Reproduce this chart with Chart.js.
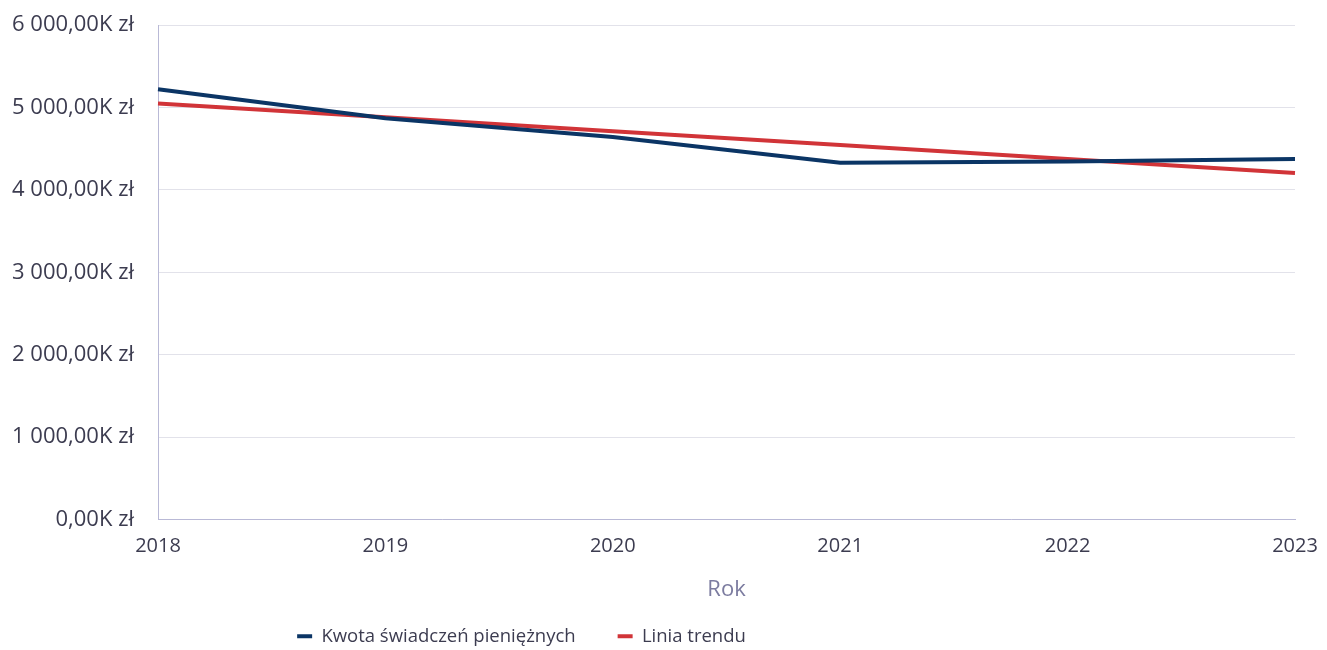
<!DOCTYPE html>
<html>
<head>
<meta charset="utf-8">
<script src="https://cdn.jsdelivr.net/npm/chart.js@4"></script>
<style>
html,body{margin:0;padding:0;background:#fff;}
#wrap{width:1327px;height:650px;}
</style>
</head>
<body>
<div id="wrap"><canvas id="c" width="1327" height="650"></canvas></div>
<script>
const years = ["2018","2019","2020","2021","2022","2023"];
const kwota = [5220, 4870, 4640, 4328, 4345, 4373];
const trend = [5048, 4880, 4712, 4544, 4375, 4206];
const yTicks = [0, 1000, 2000, 3000, 4000, 5000, 6000];

function fmt(v){
  const s = Math.round(v).toString().replace(/\B(?=(\d{3})+(?!\d))/g, " ");
  return s + ",00K zł";
}

const textColor = "#3c3c50";
Chart.defaults.font.family = "'Open Sans', sans-serif";
Chart.defaults.font.size = 18;
Chart.defaults.color = textColor;

const LEGEND_H = 47, LEGEND_DY = -18, LEGEND_DX = -126;
const legendFix = {
  id: "legendFix",
  beforeInit(chart) {
    const lg = chart.legend;
    if (!lg) return;
    const origFit = lg.fit.bind(lg);
    lg.fit = function(){ origFit(); this.height = LEGEND_H; };
    lg.draw = function(){
      if (!this.options.display) return;
      const ctx = this.ctx;
      ctx.save(); ctx.translate(LEGEND_DX, LEGEND_DY); this._draw(); ctx.restore();
    };
  }
};

new Chart(document.getElementById("c"), {
  type: "line",
  data: {
    labels: years,
    datasets: [
      {label: "Kwota świadczeń pieniężnych", data: kwota, borderColor: "#0b3565", backgroundColor: "#0b3565", borderWidth: 4, pointRadius: 0, tension: 0},
      {label: "Linia trendu", data: trend, borderColor: "#d13438", backgroundColor: "#d13438", borderWidth: 4, pointRadius: 0, tension: 0}
    ]
  },
  plugins: [legendFix],
  options: {
    responsive: false,
    animation: false,
    layout: {padding: {left: 0, right: 32, top: 25, bottom: 0}},
    plugins: {
      tooltip: {enabled: false},
      legend: {
        position: "bottom",
        labels: {
          boxWidth: 15, boxHeight: 4, padding: 42, color: textColor, font: {size: 18.5},
          generateLabels(chart) {
            const items = Chart.defaults.plugins.legend.labels.generateLabels(chart);
            items.forEach(i => { i.lineWidth = 0; });
            return items;
          }
        },
        onClick: null
      }
    },
    scales: {
      x: {
        offset: false,
        grid: {display: false},
        border: {display: true, color: "#b9b9d6", width: 1},
        ticks: {color: textColor, padding: 7, maxRotation: 0, font: {size: 20}},
        title: {display: true, text: "Rok", color: "#7c7ca0", font: {size: 22}, padding: {top: 11, bottom: 0}}
      },
      y: {
        min: 0, max: 6000,
        afterBuildTicks: (s) => { s.ticks = yTicks.map(v => ({value: v})); },
        afterFit: (s) => { s.width = 158; s.paddingTop = 0; s.paddingBottom = 0; },
        grid: {color: "#e2e2ea", drawTicks: false},
        border: {display: true, color: "#b9b9d6", width: 1},
        ticks: {color: textColor, padding: 24, font: {size: 22}, callback: (v) => fmt(v)}
      }
    }
  }
});
</script>
</body>
</html>
